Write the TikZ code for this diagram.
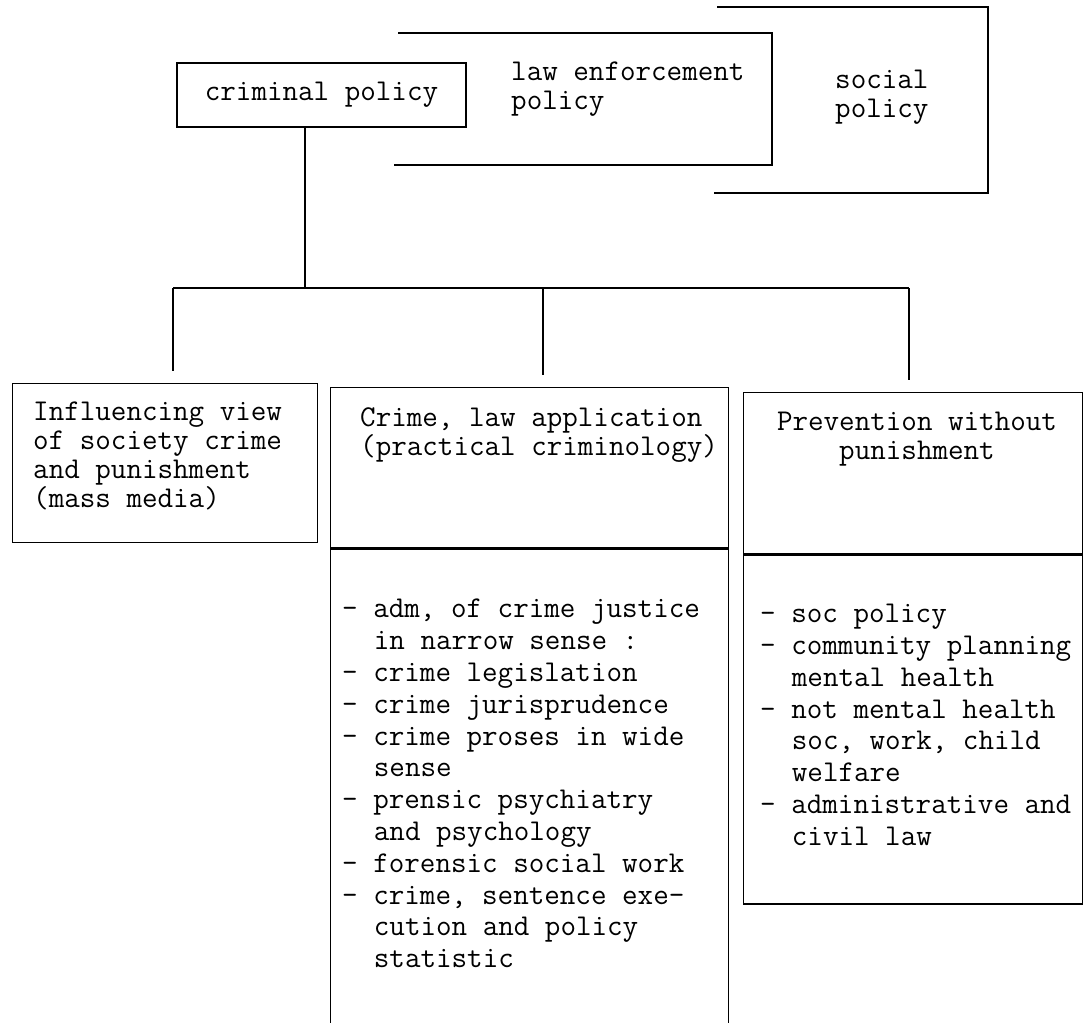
\documentclass[tikz,border=0pt]{standalone}
\usepackage{fontspec}
\usetikzlibrary{calc}

\newcommand{\ind}{\hspace*{1.05em}}

\tikzset{
  frame/.style={draw=black, line width=1.4pt, rectangle, inner sep=0pt, anchor=north west},
  head/.style={inner sep=0pt, font=\ttfamily\fontsize{30.2}{29}\selectfont},
  list/.style={inner sep=0pt, align=left, anchor=north west, font=\ttfamily\fontsize{30.2}{31.8}\selectfont},
  wire/.style={line width=1.4pt}
}

\begin{document}
\begin{tikzpicture}[x=1pt,y=-1pt]
\useasboundingbox (0,0) rectangle (1085,1023);
\clip (0,0) rectangle (1085,1023);

% the three policies, stacked
\draw[wire] (717,7) -- (988,7) -- (988,193) -- (714,193);
\draw[wire] (398,33) -- (772,33) -- (772,165) -- (394,165);
\node[frame, head, anchor=center, minimum width=289pt, minimum height=64pt] (crim) at (321.5,95) {criminal policy};
\node[head, align=left, anchor=north west] (enftxt) at (511,62) {law enforcement\\policy};
\node[head, align=left, anchor=north west] (soctxt) at (835,70) {social\\policy};

% bus
\coordinate (hub) at (305,288);
\coordinate (b1) at (173,288);
\coordinate (b2) at (543,288);
\coordinate (b3) at (909,288);
\draw[wire] (crim.south -| hub) -- (hub);
\draw[wire] (b1) -- (b3);

% left box
\node[frame, minimum width=305pt, minimum height=159pt] (influ) at (12,383) {};
\node[head, align=left, anchor=north west] (influtxt) at (33,402) {Influencing view\\of society crime\\and punishment\\(mass media)};

% middle box
\node[frame, minimum width=398pt, minimum height=160pt] (applhead) at (330,387) {};
\node[head, align=left, anchor=north west] (applheadtxt) at (360,407) {Crime, law application\\(practical criminology)};
\node[frame, minimum width=398pt, minimum height=520pt] (appllist) at (applhead.south west) {};
\node[list] (appllisttxt) at (342,599) {- adm, of crime justice\\
\ind in narrow sense :\\
- crime legislation\\
- crime jurisprudence\\
- crime proses in wide\\
\ind sense\\
- prensic psychiatry\\
\ind and psychology\\
- forensic social work\\
- crime, sentence exe-\\
\ind cution and policy\\
\ind statistic};

% right box
\node[frame, minimum width=339pt, minimum height=161pt] (prevhead) at (743,392) {};
\node[head, align=center, anchor=north] (prevheadtxt) at (917,412) {Prevention without\\punishment};
\node[frame, minimum width=339pt, minimum height=349pt] (prevlist) at (prevhead.south west) {};
\node[list] (prevlisttxt) at (760,604) {- soc policy\\
- community planning\\
\ind mental health\\
- not mental health\\
\ind soc, work, child\\
\ind welfare\\
- administrative and\\
\ind civil law};

% drops
\draw[wire, shorten >=12pt] (b1) -- (b1 |- influ.north);
\draw[wire, shorten >=12pt] (b2) -- (b2 |- applhead.north);
\draw[wire, shorten >=12pt] (b3) -- (b3 |- prevhead.north);
\end{tikzpicture}
\end{document}
